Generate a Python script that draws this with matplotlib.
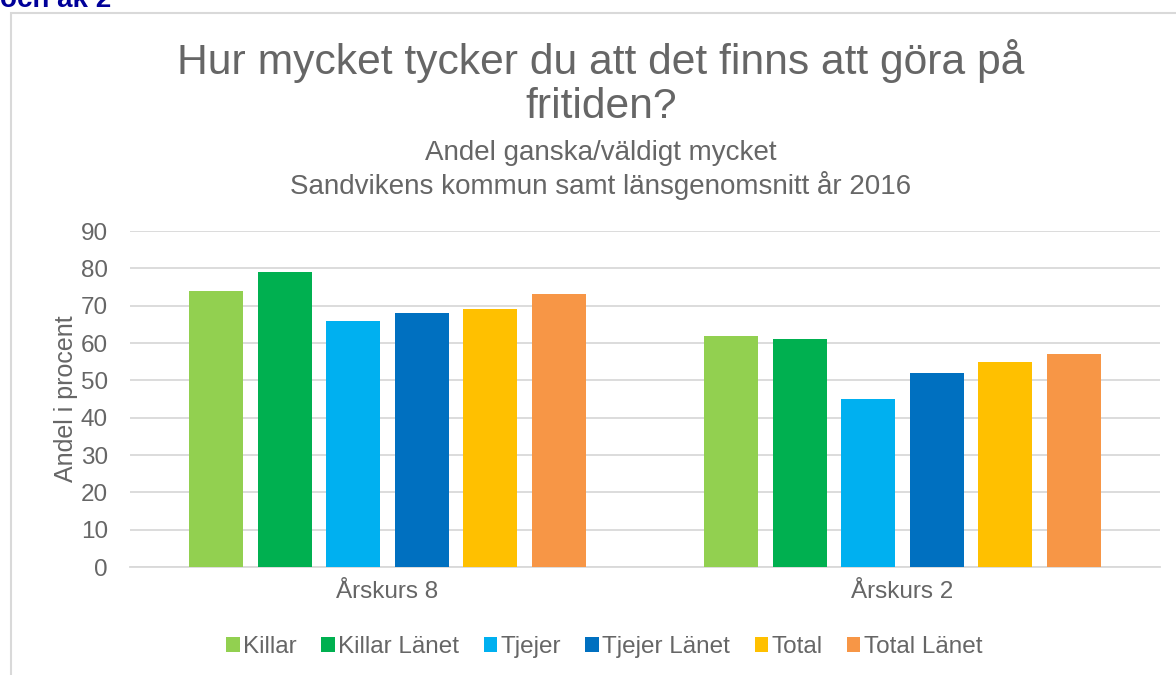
import matplotlib.pyplot as plt
import matplotlib.patches as patches
import numpy as np

plt.rcParams["font.family"] = ["Liberation Sans", "DejaVu Sans"]

# Data
grupper = ["Årskurs 8", "Årskurs 2"]
serier = ["Killar", "Killar Länet", "Tjejer", "Tjejer Länet", "Total", "Total Länet"]
killar = [74, 62]
killar_lanet = [79, 61]
tjejer = [66, 45]
tjejer_lanet = [68, 52]
total = [69, 55]
total_lanet = [73, 57]
varden = [killar, killar_lanet, tjejer, tjejer_lanet, total, total_lanet]
farger = ["#92D050", "#00B050", "#00B0F0", "#0070C0", "#FFC000", "#F79646"]

textfarg = "#666666"

fig = plt.figure(figsize=(11.76, 6.75), dpi=100)
ax = fig.add_axes([130 / 1176, 1 - 567 / 675, 1030 / 1176, 336 / 675])

x = np.arange(len(grupper))
steg = 0.133
bredd = 0.105
for i, (namn, v, f) in enumerate(zip(serier, varden, farger)):
    ax.bar(x + (i - 2.5) * steg, v, bredd, color=f, label=namn, zorder=3)

ax.set_xlim(-0.5, 1.5)
ax.set_ylim(0, 90)
ax.set_yticks(np.arange(0, 91, 10))
ax.set_xticks(x)
ax.set_xticklabels(grupper)
ax.grid(axis="y", color="#D9D9D9", linewidth=1.3, zorder=0)
for s in ["top", "right", "left"]:
    ax.spines[s].set_visible(False)
ax.spines["bottom"].set_color("#D9D9D9")
ax.spines["bottom"].set_linewidth(1.3)
ax.tick_params(axis="both", length=0, labelsize=17.5, colors=textfarg)
ax.tick_params(axis="y", pad=16)
ax.tick_params(axis="x", pad=10)
ax.set_ylabel("Andel i procent", fontsize=18, color=textfarg, labelpad=2)

fig.text(0.511, 1 - 83 / 675, "Hur mycket tycker du att det finns att göra på\nfritiden?",
         ha="center", va="center", fontsize=30.7, color=textfarg, linespacing=1.14)
fig.text(0.511, 1 - 170 / 675, "Andel ganska/väldigt mycket\nSandvikens kommun samt länsgenomsnitt år 2016",
         ha="center", va="center", fontsize=20, color=textfarg, linespacing=1.2)

leg = fig.legend(loc="center", bbox_to_anchor=(0.514, 1 - 647 / 675), ncol=6, frameon=False,
                 fontsize=17.5, handlelength=0.55, handleheight=0.55, handletextpad=0.15,
                 columnspacing=1.0)
for t in leg.get_texts():
    t.set_color(textfarg)

# ram runt diagrammet
fig.add_artist(patches.Rectangle((10.5 / 1176, -0.1), 1.2, 1 - 12.5 / 675 + 0.1,
                                 transform=fig.transFigure, fill=False,
                                 edgecolor="#D9D9D9", linewidth=1.5))
fig.text(0.0, 1 - 7 / 675, "och åk 2", ha="left", va="baseline", fontsize=20,
         fontweight="bold", color="#000099")

fig.savefig("out.png", dpi=100)
